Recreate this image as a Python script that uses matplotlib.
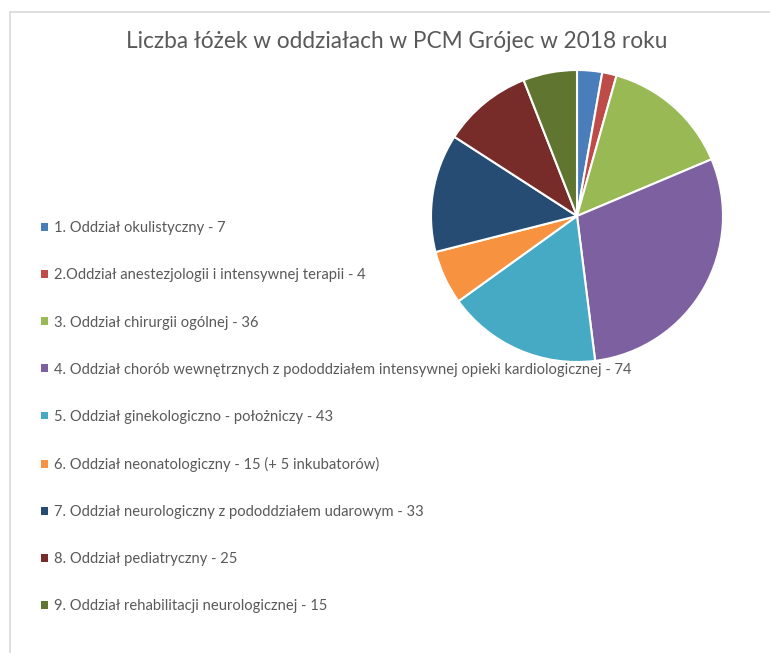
import matplotlib.pyplot as plt
from matplotlib.patches import Rectangle

plt.rcParams['font.family'] = ['Lato', 'DejaVu Sans']

etykiety = [
    "1. Oddział okulistyczny - 7",
    "2.Oddział anestezjologii i intensywnej terapii - 4",
    "3. Oddział chirurgii ogólnej - 36",
    "4. Oddział chorób wewnętrznych z pododdziałem intensywnej opieki kardiologicznej - 74",
    "5. Oddział ginekologiczno - położniczy - 43",
    "6. Oddział neonatologiczny - 15 (+ 5 inkubatorów)",
    "7. Oddział neurologiczny z pododdziałem udarowym - 33",
    "8. Oddział pediatryczny - 25",
    "9. Oddział rehabilitacji neurologicznej - 15",
]
lozka = [7, 4, 36, 74, 43, 15, 33, 25, 15]
kolory = ["#4A7EBB", "#BE4B48", "#98B954", "#7D60A0", "#46AAC5",
          "#F69240", "#264C73", "#772C2A", "#5F7530"]

W, H = 770, 653
fig = plt.figure(figsize=(W / 100, H / 100), dpi=100)

# ramka wykresu (jak w Excelu)
fig.patches.append(Rectangle((10 / W, -0.1), 1.2, (H - 12) / H + 0.1,
                             transform=fig.transFigure, fill=False,
                             edgecolor="#D9D9D9", linewidth=1.2))

fig.text(397 / W, 1 - 42 / H, "Liczba łóżek w oddziałach w PCM Grójec w 2018 roku",
         ha="center", va="center", fontsize=16.3, color="#595959")

r = 146
cx, cy = 577, 216
ax = fig.add_axes([(cx - r) / W, 1 - (cy + r) / H, 2 * r / W, 2 * r / H])
klin, _ = ax.pie(lozka, colors=kolory, startangle=90, counterclock=False,
                 wedgeprops=dict(edgecolor="white", linewidth=1.5))
ax.set_aspect("equal")
ax.set_xlim(-1, 1)
ax.set_ylim(-1, 1)

leg = fig.legend(klin, etykiety, loc="upper left",
                 bbox_to_anchor=(28 / W, 1 - 208 / H),
                 frameon=False, fontsize=10.6, labelspacing=2.25,
                 handlelength=0.45, handleheight=0.45, handletextpad=0.45,
                 labelcolor="#595959")
leg.set_zorder(5)
for h in leg.legend_handles:
    h.set_edgecolor("none")

fig.savefig("out.png", dpi=100)
